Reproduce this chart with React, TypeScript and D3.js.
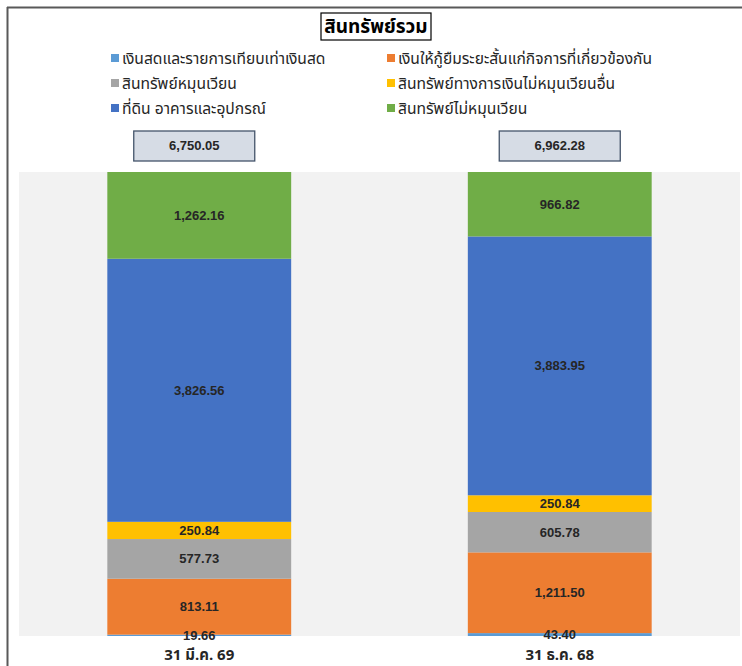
import React from "react";
import * as d3 from "d3";

const categories = ["31 มี.ค. 69", "31 ธ.ค. 68"];
const seriesNames = [
  "เงินสดและรายการเทียบเท่าเงินสด",
  "เงินให้กู้ยืมระยะสั้นแก่กิจการที่เกี่ยวข้องกัน",
  "สินทรัพย์หมุนเวียน",
  "สินทรัพย์ทางการเงินไม่หมุนเวียนอื่น",
  "ที่ดิน อาคารและอุปกรณ์",
  "สินทรัพย์ไม่หมุนเวียน",
];
const seriesColors = ["#5b9bd5", "#ed7d31", "#a5a5a5", "#ffc000", "#4472c4", "#70ad47"];
const cashValues = [19.66, 43.4];
const loanValues = [813.11, 1211.5];
const currentValues = [577.73, 605.78];
const finValues = [250.84, 250.84];
const ppeValues = [3826.56, 3883.95];
const nonCurrentValues = [1262.16, 966.82];
const totals = [6750.05, 6962.28];
const title = "สินทรัพย์รวม";

const W = 742;
const H = 666;
const plot = { left: 19, right: 740, top: 172, bottom: 636 };

export default function App() {
  const seriesValues = [cashValues, loanValues, currentValues, finValues, ppeValues, nonCurrentValues];
  const rows = categories.map((c, i) => {
    const r: any = { cat: c };
    seriesNames.forEach((s, j) => (r[s] = seriesValues[j][i]));
    return r;
  });
  const stack = d3.stack<any>().keys(seriesNames).offset(d3.stackOffsetExpand);
  const stacked = stack(rows);
  const x = d3
    .scaleBand<string>()
    .domain(categories)
    .range([plot.left, plot.right])
    .paddingInner(0.49)
    .paddingOuter(0.245);
  const y = d3.scaleLinear().domain([0, 1]).range([plot.bottom, plot.top]);
  const fmt = d3.format(",.2f");
  const labelFont = "'Liberation Sans Narrow', 'Arial Narrow', 'Liberation Sans', sans-serif";
  const thaiFont = "Tahoma, 'Noto Sans Thai', 'Noto Sans', 'DejaVu Sans', sans-serif";

  const legendCols = [111, 387];
  const legendRows = [58, 83, 108];

  return (
    <svg
      width={W}
      height={H}
      style={{ position: "absolute", left: 0, top: 0, background: "#fff" }}
    >
      <rect x={0} y={0} width={W} height={H} fill="#fff" />
      <line x1={7.5} y1={7} x2={7.5} y2={H} stroke="#595959" strokeWidth={2} />
      <line x1={7} y1={7.5} x2={W} y2={7.5} stroke="#595959" strokeWidth={2} />

      <rect x={321} y={13} width={110} height={27} fill="#fff" stroke="#000" strokeWidth={1.2} />
      <text
        x={376}
        y={33}
        textAnchor="middle"
        fontSize={19}
        fontWeight="bold"
        fontFamily={thaiFont}
        fill="#000"
      >
        {title}
      </text>

      {seriesNames.map((s, i) => {
        const cx = legendCols[i % 2];
        const cy = legendRows[Math.floor(i / 2)];
        return (
          <g key={s}>
            <rect x={cx} y={cy - 4} width={8} height={8} fill={seriesColors[i]} />
            <text
              x={cx + 11}
              y={cy + 5.5}
              fontSize={15.6}
              fontFamily={thaiFont}
              fill="#262626"
            >
              {s}
            </text>
          </g>
        );
      })}

      <rect x={plot.left} y={plot.top} width={plot.right - plot.left} height={plot.bottom - plot.top} fill="#f2f2f2" />

      {stacked.map((layer, li) => (
        <g key={layer.key}>
          {layer.map((d, ci) => (
            <rect
              key={ci}
              x={x(categories[ci])}
              y={y(d[1])}
              width={x.bandwidth()}
              height={y(d[0]) - y(d[1])}
              fill={seriesColors[li]}
            />
          ))}
        </g>
      ))}

      {stacked.map((layer, li) => (
        <g key={"l" + layer.key}>
          {layer.map((d, ci) => (
            <text
              key={ci}
              x={(x(categories[ci]) as number) + x.bandwidth() / 2}
              y={(y(d[0]) + y(d[1])) / 2 + 4.5}
              textAnchor="middle"
              fontSize={13}
              fontWeight="bold"
              fontFamily={labelFont}
              fill="#262626"
            >
              {fmt(seriesValues[li][ci])}
            </text>
          ))}
        </g>
      ))}

      {categories.map((c, i) => {
        const cx = (x(c) as number) + x.bandwidth() / 2 + (i === 0 ? -5 : 0);
        return (
          <g key={c}>
            <rect x={cx - 60.5} y={131} width={121} height={30} fill="#d6dce5" stroke="#44546a" strokeWidth={1.3} />
            <text
              x={cx}
              y={150}
              textAnchor="middle"
              fontSize={13}
              fontWeight="bold"
              fontFamily={labelFont}
              fill="#262626"
            >
              {fmt(totals[i])}
            </text>
            <text
              x={(x(c) as number) + x.bandwidth() / 2}
              y={660}
              textAnchor="middle"
              fontSize={15}
              fontWeight="bold"
              fontFamily={thaiFont}
              fill="#262626"
            >
              {c}
            </text>
          </g>
        );
      })}
    </svg>
  );
}
